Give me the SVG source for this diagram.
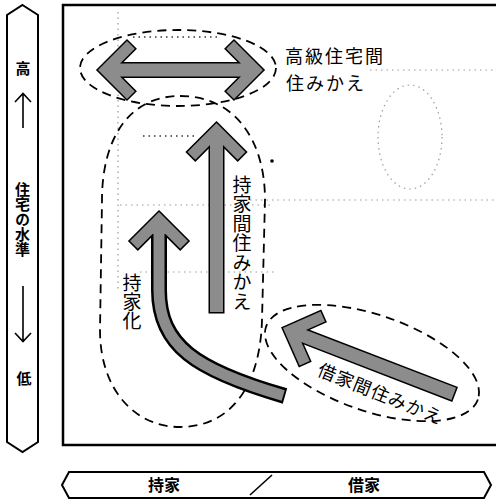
<svg xmlns="http://www.w3.org/2000/svg" xmlns:xlink="http://www.w3.org/1999/xlink" width="496" height="502" viewBox="0 0 496 502">
<style>
  .frame{fill:none;stroke:#000;stroke-width:2.5}
  .bar{fill:#fff;stroke:#000;stroke-width:2;stroke-linejoin:miter}
  .dash{fill:none;stroke:#000;stroke-width:1.8;stroke-dasharray:9 6}
  .faint{fill:none;stroke:#9a9a9a;stroke-width:1.2;stroke-dasharray:1.5 4}
  .dots{fill:none;stroke:#333;stroke-width:1.5;stroke-dasharray:1.5 4}
  .ol{fill:#000;stroke:#000;stroke-width:3;stroke-linejoin:miter}
  .fl{fill:#8c8c8c;stroke:none}
  .olc{fill:none;stroke:#000;stroke-width:16}
  .flc{fill:none;stroke:#8c8c8c;stroke-width:11}
  .thin{fill:none;stroke:#000;stroke-width:1.6}
  .lbl{font-family:"Noto Sans CJK JP","Noto Sans CJK SC",sans-serif;fill:#000}
  .bold{font-weight:bold}
  .vert{writing-mode:vertical-rl}
</style>
<defs>
  <polygon id="hd" points="0,0 29,29 21.2,36.8 6.5,22.1 -6.5,22.1 -21.2,36.8 -29,29"/>
</defs>

<rect width="496" height="502" fill="#fff"/>

<!-- faint background remnants -->
<g id="background">
  <line class="faint" x1="118" y1="12" x2="118" y2="290"/>
  <line class="faint" x1="370" y1="70" x2="496" y2="70"/>
  <line class="faint" x1="250" y1="200" x2="496" y2="200"/>
  <line class="faint" x1="120" y1="205" x2="272" y2="205"/>
  <line class="faint" x1="140" y1="272" x2="275" y2="272"/>
  <ellipse class="faint" cx="410" cy="137" rx="32" ry="52"/>
  <line class="dots" x1="133" y1="37" x2="218" y2="37"/>
  <line class="dots" x1="143" y1="136" x2="195" y2="136"/>
  <circle cx="272" cy="161" r="1.8" fill="#000"/>
</g>

<!-- main frame -->
<rect class="frame" x="63" y="5" width="440" height="440"/>

<!-- left vertical bar: housing level -->
<g id="axis-level">
  <polygon class="bar" points="22.5,5 38,15 38,442 22.5,452 7,442 7,15"/>
  <text class="lbl bold" x="23" y="74" font-size="15" text-anchor="middle">高</text>
  <path class="thin" d="M23,94 L23,128 M15,102 L23,93.5 L31,102"/>
  <text class="lbl bold vert" x="22.5" y="182" font-size="15">住宅の水準</text>
  <path class="thin" d="M23,286 L23,342 M15,333 L23,341.5 L31,333"/>
  <text class="lbl bold" x="24" y="384" font-size="15" text-anchor="middle">低</text>
</g>

<!-- bottom horizontal bar: owner / renter -->
<g id="axis-tenure">
  <polygon class="bar" points="62,485 69,472 484,472 491,485 484,498 69,498"/>
  <text class="lbl bold" x="164" y="491" font-size="16" text-anchor="middle">持家</text>
  <line class="thin" x1="250" y1="495" x2="272" y2="475"/>
  <text class="lbl bold" x="364" y="491" font-size="16" text-anchor="middle">借家</text>
</g>

<!-- dashed groupings -->
<g id="groups">
  <ellipse class="dash" cx="178" cy="68" rx="98" ry="38"/>
  <path class="dash" d="M180,96 C235,96 265,140 265,200 L262,320 C260,390 228,427 180,427 C135,427 100,390 100,330 L102,200 C102,140 128,96 180,96 Z"/>
  <ellipse class="dash" cx="372" cy="363" rx="112" ry="48" transform="rotate(19 372 363)"/>
</g>

<!-- arrows (connectors) -->
<g id="connectors">
  <!-- high-grade double arrow -->
  <g id="arrow-highgrade" transform="translate(98,70) rotate(-90)">
    <g class="ol"><use xlink:href="#hd"/><rect x="-6.5" y="20" width="13" height="125"/><use xlink:href="#hd" transform="translate(0,165) rotate(180)"/></g>
    <g class="fl"><use xlink:href="#hd"/><rect x="-6.5" y="20" width="13" height="125"/><use xlink:href="#hd" transform="translate(0,165) rotate(180)"/></g>
  </g>
  <!-- owner to owner -->
  <g id="arrow-owner" transform="translate(216.5,123)">
    <g class="ol"><use xlink:href="#hd"/><rect x="-6.5" y="20" width="13" height="169"/></g>
    <g class="fl"><use xlink:href="#hd"/><rect x="-6.5" y="20" width="13" height="169"/></g>
  </g>
  <!-- renter to renter -->
  <g id="arrow-renter" transform="translate(283,328) rotate(-68.9)">
    <g class="ol"><use xlink:href="#hd"/><rect x="-6.5" y="20" width="13" height="163"/></g>
    <g class="fl"><use xlink:href="#hd"/><rect x="-6.5" y="20" width="13" height="163"/></g>
  </g>
  <!-- becoming owner (curved) -->
  <g id="arrow-ownership">
    <path class="olc" d="M159,228 L159,290 C159,345 195,370 285,396"/>
    <use class="ol" xlink:href="#hd" transform="translate(159,212)"/>
    <path class="flc" d="M159,228 L159,290 C159,345 195,370 283.2,395.5"/>
    <use class="fl" xlink:href="#hd" transform="translate(159,212)"/>
  </g>
</g>

<!-- labels -->
<g id="labels">
  <text class="lbl" x="285" y="63" font-size="18" letter-spacing="2">高級住宅間</text>
  <text class="lbl" x="286" y="90" font-size="18" letter-spacing="2">住みかえ</text>
  <text class="lbl vert" x="242" y="175" font-size="19" letter-spacing="0.5">持家間住みかえ</text>
  <text class="lbl vert" x="132" y="273" font-size="19">持家化</text>
  <text class="lbl" x="0" y="0" font-size="18" text-anchor="middle" letter-spacing="1" transform="translate(378,400) rotate(22)">借家間住みかえ</text>
</g>
</svg>
